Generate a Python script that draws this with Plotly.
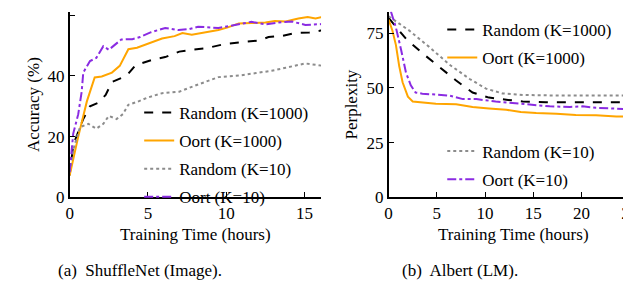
import plotly.graph_objects as go

# ---- Left panel: ShuffleNet (Image) ----
a_rand1000_x = [0, 0.23, 0.87, 1.3, 1.8, 2.3, 2.7, 3.1, 3.65, 4.2, 4.7, 5.35, 6.1, 7.0, 7.8, 8.7, 9.9, 11.2, 12.1, 12.7, 13.6, 14.4, 15.3, 16.2]
a_rand1000_y = [7.2, 17.3, 25.8, 30.0, 31.1, 33.7, 38.0, 39.0, 40.1, 43.5, 44.3, 45.4, 46.2, 48.0, 48.6, 49.1, 50.5, 51.3, 51.7, 52.8, 53.2, 54.1, 54.3, 55.1]
a_oort1000_x = [0, 0.55, 1.1, 1.6, 2.05, 2.7, 3.2, 3.75, 4.3, 5.0, 5.9, 6.7, 7.2, 7.8, 8.7, 9.5, 10.1, 10.8, 11.6, 12.5, 13.1, 13.8, 14.6, 15.2, 15.7, 16.2]
a_oort1000_y = [7.2, 20.0, 31.6, 39.5, 39.8, 41.1, 43.3, 48.8, 49.3, 50.7, 52.3, 53.1, 54.1, 53.6, 54.4, 55.1, 56.0, 57.3, 57.4, 57.6, 58.1, 57.9, 58.9, 59.4, 58.9, 59.5]
a_rand10_x = [0, 0.23, 0.66, 1.2, 1.7, 2.15, 2.5, 3.0, 3.4, 3.75, 4.3, 5.0, 5.9, 7.0, 7.8, 8.7, 9.5, 10.8, 12.1, 12.9, 13.8, 15.05, 16.2]
a_rand10_y = [8.3, 15.7, 23.1, 24.2, 22.6, 24.2, 26.8, 25.8, 27.4, 30.5, 31.4, 32.9, 34.3, 34.8, 36.4, 38.0, 39.6, 40.1, 41.1, 41.7, 42.7, 44.1, 43.3]
a_oort10_x = [0, 0.23, 0.55, 0.77, 0.87, 1.3, 1.7, 2.15, 2.5, 2.9, 3.3, 4.0, 4.5, 5.2, 6.1, 6.95, 7.6, 8.2, 9.5, 10.8, 11.6, 12.5, 13.35, 14.2, 15.05, 16.2]
a_oort10_y = [8.3, 21.0, 27.4, 34.8, 41.1, 44.9, 45.9, 49.8, 48.6, 50.2, 52.0, 52.1, 52.8, 54.4, 55.8, 55.1, 55.4, 56.2, 55.8, 57.0, 57.8, 57.0, 57.6, 57.9, 56.8, 57.1]

# ---- Right panel: Albert (LM) ----
b_rand1000_x = [0, 1.8, 3.5, 5.3, 7.0, 8.7, 10.4, 12.2, 13.9, 16.3, 26.1]
b_rand1000_y = [82.0, 72.5, 65.9, 59.3, 53.4, 47.9, 45.6, 44.6, 43.8, 43.5, 43.5]
b_oort1000_x = [0, 0.4, 0.76, 1.1, 1.45, 2.0, 2.5, 3.5, 4.9, 7.0, 8.7, 10.4, 12.2, 13.7, 15.3, 17.4, 19.4, 21.5, 23.6, 25.3, 26.1]
b_oort1000_y = [81.3, 76.2, 69.6, 60.0, 52.6, 46.0, 43.8, 43.5, 42.8, 42.6, 41.3, 40.6, 40.0, 39.0, 38.5, 38.2, 37.6, 37.5, 36.9, 36.9, 37.4]
b_rand10_x = [0, 2.15, 4.2, 6.3, 8.4, 10.1, 11.8, 13.9, 18.1, 26.1]
b_rand10_y = [82.8, 76.2, 68.8, 60.7, 54.1, 49.7, 47.5, 46.8, 46.5, 46.5]
b_oort10_x = [0.24, 0.76, 1.3, 1.8, 2.3, 2.8, 3.5, 4.9, 6.3, 7.7, 9.1, 11.1, 13.2, 14.6, 16.7, 18.8, 20.1, 21.5, 23.6, 26.1]
b_oort10_y = [85.0, 77.6, 67.4, 57.0, 51.2, 47.9, 47.4, 46.8, 46.5, 44.9, 44.9, 43.8, 43.1, 42.4, 41.6, 41.3, 41.6, 40.9, 40.6, 40.1]

names = ["Random (K=1000)", "Oort (K=1000)", "Random (K=10)", "Oort (K=10)"]
styles = [
    dict(color="black", dash="dash", width=2),
    dict(color="#FFA500", dash="solid", width=2),
    dict(color="#8C8C8C", dash="dot", width=2),
    dict(color="#8A2BE2", dash="dashdot", width=2),
]

FONT = "Times New Roman"
fig = go.Figure()

left = [(a_rand1000_x, a_rand1000_y), (a_oort1000_x, a_oort1000_y),
        (a_rand10_x, a_rand10_y), (a_oort10_x, a_oort10_y)]
right = [(b_rand1000_x, b_rand1000_y), (b_oort1000_x, b_oort1000_y),
         (b_rand10_x, b_rand10_y), (b_oort10_x, b_oort10_y)]

for i, (xs, ys) in enumerate(left):
    fig.add_trace(go.Scatter(x=xs, y=ys, mode="lines", name=names[i], line=styles[i],
                             xaxis="x", yaxis="y", legend="legend", legendgroup="a%d" % i))
for i, (xs, ys) in enumerate(right):
    fig.add_trace(go.Scatter(x=xs, y=ys, mode="lines", name=names[i], line=styles[i],
                             xaxis="x2", yaxis="y2",
                             legend="legend2" if i < 2 else "legend3", legendgroup="b%d" % i))

TF = dict(family=FONT, size=17)
axis_common = dict(showline=True, linecolor="black", linewidth=1.5, ticks="inside",
                   ticklen=6, tickwidth=1.2, tickcolor="black", showgrid=False, zeroline=False,
                   tickfont=TF)

ydom = [96 / 292, 1 - 4 / 292]
fig.update_layout(
    width=631, height=292, margin=dict(l=0, r=0, t=0, b=0),
    paper_bgcolor="white", plot_bgcolor="white",
    font=dict(family=FONT, size=17, color="black"),
    xaxis=dict(domain=[58 / 631, 311 / 631], range=[0, 16.05], tickvals=[0, 5, 10, 15],
               title=dict(text="Training Time (hours)", font=TF, standoff=6),
               anchor="y", **axis_common),
    yaxis=dict(domain=ydom, range=[0, 61.1], tickvals=[0, 20, 40, 60],
               title=dict(text="Accuracy (%)", font=TF, standoff=4),
               anchor="x", **axis_common),
    xaxis2=dict(domain=[379 / 631, 630 / 631], range=[0, 25.85], tickvals=[0, 5, 10, 15, 20, 25],
                title=dict(text="Training Time (hours)", font=TF, standoff=6),
                anchor="y2", **axis_common),
    yaxis2=dict(domain=ydom, range=[0, 84.8], tickvals=[0, 25, 50, 75],
                title=dict(text="Perplexity", font=TF, standoff=4),
                anchor="x2", **axis_common),
    legend=dict(x=128 / 631, y=1 - 90 / 292, xanchor="left", yanchor="top",
                bgcolor="rgba(0,0,0,0)", tracegroupgap=3, itemwidth=30, font=TF),
    legend2=dict(x=433 / 631, y=1 - 4 / 292, xanchor="left", yanchor="top",
                 bgcolor="rgba(0,0,0,0)", tracegroupgap=3, itemwidth=30, font=TF),
    legend3=dict(x=433 / 631, y=1 - 130 / 292, xanchor="left", yanchor="top",
                 bgcolor="rgba(0,0,0,0)", tracegroupgap=3, itemwidth=30, font=TF),
    annotations=[
        dict(text="(a)  ShuffleNet (Image).", x=129 / 631, y=1 - 272 / 292, xref="paper", yref="paper",
             showarrow=False, font=TF, xanchor="center", yanchor="middle"),
        dict(text="(b)  Albert (LM).", x=451 / 631, y=1 - 272 / 292, xref="paper", yref="paper",
             showarrow=False, font=TF, xanchor="center", yanchor="middle"),
    ],
)

fig.write_html("out.html")
